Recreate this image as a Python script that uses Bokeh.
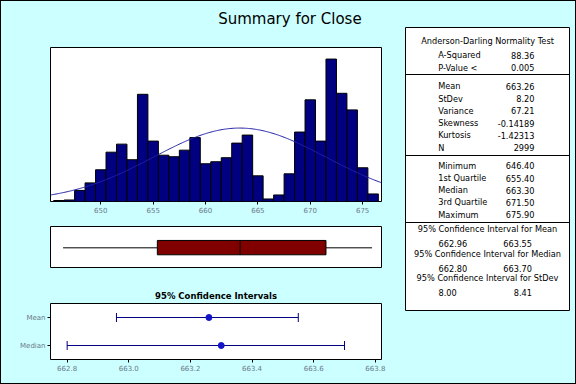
import numpy as np
from bokeh.plotting import figure
from bokeh.models import (Range1d, FactorRange, ColumnDataSource, FixedTicker,
                          NumeralTickFormatter)
from bokeh.layouts import row, column
from bokeh.core.properties import value
from bokeh.embed import file_html
from bokeh.resources import INLINE

# ---------------- data ----------------
bin_centers = list(range(646, 677))
bin_counts = [2, 3, 22, 37, 63, 98, 114, 83, 213, 120,
              92, 89, 102, 127, 75, 79, 87, 116, 132, 51,
              5, 13, 55, 138, 202, 120, 283, 215, 182, 67, 15]
hist_ticks = [650, 655, 660, 665, 670, 675]

mean_val = 663.26
sd_val = 8.20
n_val = 2999
min_val = 646.40
q1_val = 655.40
median_val = 663.30
q3_val = 671.50
max_val = 675.90

ci_names = ["Mean", "Median"]
ci_centers = [663.26, 663.30]
ci_lows = [662.96, 662.80]
ci_highs = [663.55, 663.70]
ci_ticks = [662.8, 663.0, 663.2, 663.4, 663.6, 663.8]

chart_title = "Summary for Close"
ci_title = "95% Confidence Intervals"

ad_labels = ["A-Squared", "P-Value <"]
ad_values = ["88.36", "0.005"]
desc_labels = ["Mean", "StDev", "Variance", "Skewness", "Kurtosis", "N"]
desc_values = ["663.26", "8.20", "67.21", "-0.14189", "-1.42313", "2999"]
quart_labels = ["Minimum", "1st Quartile", "Median", "3rd Quartile", "Maximum"]
quart_values = ["646.40", "655.40", "663.30", "671.50", "675.90"]
ci_table_titles = ["95% Confidence Interval for Mean",
                   "95% Confidence Interval for Median",
                   "95% Confidence Interval for StDev"]
ci_table_low = ["662.96", "662.80", "8.00"]
ci_table_high = ["663.55", "663.70", "8.41"]

# ---------------- styles ----------------
BG = "#ccffff"
FONT = "DejaVu Sans"
TICK_C = "#6a7a8a"
NAVY = "#000080"


def style_axis(ax):
    ax.major_label_text_font = FONT
    ax.major_label_text_font_size = "7px"
    ax.major_label_text_color = TICK_C
    ax.major_tick_in = 0
    ax.major_tick_out = 3
    ax.major_tick_line_color = "black"
    ax.minor_tick_line_color = None
    ax.axis_line_color = None
    ax.major_label_standoff = 2


common = dict(output_backend="svg", toolbar_location=None,
              background_fill_color="white", border_fill_color=BG,
              outline_line_color="black", outline_line_width=1)

LEFT_W = 395
TITLE_H = 32

# ---------------- title strip ----------------
ttl = figure(width=LEFT_W, height=TITLE_H, x_range=Range1d(0, LEFT_W),
             y_range=Range1d(TITLE_H, 0), x_axis_location=None, y_axis_location=None,
             min_border=0, output_backend="svg", toolbar_location=None,
             background_fill_color=BG, border_fill_color=BG, outline_line_color=None)
ttl.grid.visible = False
ttl.text(x=[285.7], y=[17.5], text=[chart_title], text_font=value(FONT),
         text_font_size="15px", text_color="black", text_align="center",
         text_baseline="middle")

# ---------------- histogram ----------------
x_rng = Range1d(645.2, 676.8)
hist = figure(width=LEFT_W, height=214 - TITLE_H, x_range=x_rng, y_range=Range1d(0, 306),
              y_axis_location=None,
              min_border_left=49, min_border_right=15, min_border_top=46 - TITLE_H,
              min_border_bottom=13, **common)

centers = np.array(bin_centers, dtype=float)
hsrc = ColumnDataSource(dict(left=centers - 0.5, right=centers + 0.5,
                             top=bin_counts, bottom=[0] * len(bin_counts)))
hist.quad(left="left", right="right", top="top", bottom="bottom", source=hsrc,
          fill_color=NAVY, line_color="black", line_width=1)

xs = np.linspace(x_rng.start, x_rng.end, 300)
ys = n_val * 1.0 / (sd_val * np.sqrt(2 * np.pi)) * np.exp(-0.5 * ((xs - mean_val) / sd_val) ** 2)
hist.line(xs, ys, line_color="#2222a8", line_width=1)

hist.xaxis.ticker = FixedTicker(ticks=hist_ticks)
style_axis(hist.xaxis[0])
hist.grid.visible = False

# ---------------- boxplot ----------------
box = figure(width=LEFT_W, height=66, x_range=x_rng, y_range=Range1d(0, 1),
             x_axis_location=None, y_axis_location=None,
             min_border_left=49, min_border_right=15, min_border_top=11,
             min_border_bottom=14, **common)
box.grid.visible = False
box.segment(x0=[min_val, q3_val], y0=[0.48, 0.48], x1=[q1_val, max_val], y1=[0.48, 0.48],
            line_color="black", line_width=1)
box.quad(left=[q1_val], right=[q3_val], bottom=[0.31], top=[0.66],
         fill_color="#800000", line_color="black", line_width=1)
box.segment(x0=[median_val], y0=[0.31], x1=[median_val], y1=[0.66],
            line_color="black", line_width=1)

# ---------------- confidence intervals ----------------
ci = figure(width=LEFT_W, height=102, x_range=Range1d(662.746, 663.82),
            y_range=FactorRange(factors=ci_names[::-1]),
            title=ci_title,
            min_border_left=49, min_border_right=15, min_border_top=22,
            min_border_bottom=24, **common)
ci.title.align = "center"
ci.title.standoff = 6
ci.title.text_font = FONT
ci.title.text_font_size = "8.5px"
ci.title.text_font_style = "bold"
ci.title.text_color = "black"
ci.grid.visible = False

csrc = ColumnDataSource(dict(name=ci_names, lo=ci_lows, hi=ci_highs, c=ci_centers))
ci.segment(x0="lo", y0="name", x1="hi", y1="name", source=csrc,
           line_color=NAVY, line_width=1)
ci.scatter(x="lo", y="name", source=csrc, marker="dash", angle=np.pi / 2,
           size=9, line_color=NAVY, line_width=1)
ci.scatter(x="hi", y="name", source=csrc, marker="dash", angle=np.pi / 2,
           size=9, line_color=NAVY, line_width=1)
ci.scatter(x="c", y="name", source=csrc, marker="circle", size=6,
           fill_color="#1414c8", line_color="#1414c8")
ci.xaxis.ticker = FixedTicker(ticks=ci_ticks)
ci.xaxis.formatter = NumeralTickFormatter(format="0.0")
style_axis(ci.xaxis[0])
style_axis(ci.yaxis[0])

# ---------------- summary table ----------------
TW, TH = 164, 283
tab = figure(width=179, height=382, x_range=Range1d(0, TW), y_range=Range1d(TH, 0),
             x_axis_location=None, y_axis_location=None,
             min_border_left=9, min_border_right=6, min_border_top=26,
             min_border_bottom=73, **common)
tab.grid.visible = False

lab_x, val_x, mid_x = 32.7, 129.0, TW / 2
ci_lo_x, ci_hi_x = 33.0, 126.5

left_t, left_x, left_y = [], [], []
right_t, right_x, right_y = [], [], []
cent_t, cent_x, cent_y = [], [], []

cent_t.append("Anderson-Darling Normality Test"); cent_x.append(mid_x); cent_y.append(13.0)
for i, (l, v) in enumerate(zip(ad_labels, ad_values)):
    y = 27.7 + i * 12.6
    left_t.append(l); left_x.append(lab_x); left_y.append(y)
    right_t.append(v); right_x.append(val_x); right_y.append(y)
for i, (l, v) in enumerate(zip(desc_labels, desc_values)):
    y = 58.7 + i * 12.3
    left_t.append(l); left_x.append(lab_x); left_y.append(y)
    right_t.append(v); right_x.append(val_x); right_y.append(y)
for i, (l, v) in enumerate(zip(quart_labels, quart_values)):
    y = 138.3 + i * 12.2
    left_t.append(l); left_x.append(lab_x); left_y.append(y)
    right_t.append(v); right_x.append(val_x); right_y.append(y)
for i, (t, lo, hi) in enumerate(zip(ci_table_titles, ci_table_low, ci_table_high)):
    y = 201.3 + i * 24.7
    cent_t.append(t); cent_x.append(mid_x); cent_y.append(y)
    left_t.append(lo); left_x.append(ci_lo_x); left_y.append(y + 14.5)
    right_t.append(hi); right_x.append(ci_hi_x); right_y.append(y + 14.5)

txt = dict(text_font=value(FONT), text_font_size="8.2px", text_color="black",
           text_baseline="middle")
tab.text(x=left_x, y=left_y, text=left_t, text_align="left", **txt)
tab.text(x=right_x, y=right_y, text=right_t, text_align="right", **txt)
tab.text(x=cent_x, y=cent_y, text=cent_t, text_align="center", **txt)
tab.hspan(y=[47, 128, 195], line_color="black", line_width=1)

layout = row(column(ttl, hist, box, ci), tab,
             styles={"border": "1px solid black", "background-color": BG})

open("out.html", "w").write(file_html(layout, INLINE))
